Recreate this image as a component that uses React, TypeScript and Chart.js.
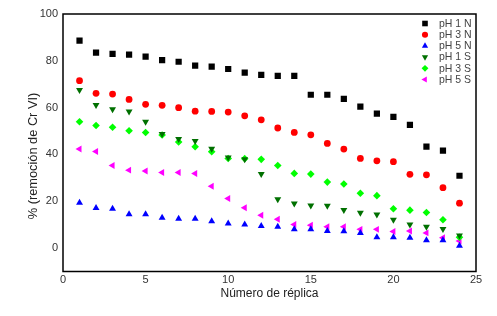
import React, { useEffect, useRef } from "react";
import { Chart, registerables } from "chart.js";
import { drawPoint } from "chart.js/helpers";

Chart.register(...registerables);

const replicas = [1, 2, 3, 4, 5, 6, 7, 8, 9, 10, 11, 12, 13, 14, 15, 16, 17, 18, 19, 20, 21, 22, 23, 24];
const ph1N = [88.6, 83.5, 83, 82.6, 81.8, 80.3, 79.6, 77.9, 77.5, 76.5, 75, 74, 73.6, 73.6, 65.5, 65.5, 63.7, 60.4, 57.4, 56.1, 52.6, 43.3, 41.6, 30.9];
const ph3N = [71.5, 66.1, 65.8, 63.5, 61.4, 61, 60, 58.5, 58.4, 58.1, 56.5, 54.8, 51.3, 49.4, 48.4, 44.7, 42.3, 38.3, 37.3, 36.9, 31.5, 31.3, 25.8, 19.2];
const ph5N = [19.4, 17.1, 16.8, 14.5, 14.5, 13, 12.5, 12.5, 11.5, 10.5, 10.1, 9.4, 9.1, 8, 8, 7.3, 7.2, 6.5, 4.6, 4.6, 4.4, 3.4, 3.4, 1];
const ph1S = [67.5, 61.1, 59.3, 58.3, 54, 48.7, 46.6, 45.7, 42.4, 38.7, 37.9, 31.6, 20.9, 19.1, 18.2, 18.1, 16.3, 15.1, 14.4, 12.1, 10.1, 9.1, 8.2, 5.4];
const ph3S = [54, 52.4, 51.6, 50.1, 49.4, 48.3, 45.3, 43.3, 41.2, 38.3, 38.2, 37.9, 35.3, 31.9, 31.6, 28.2, 27.4, 23.4, 22.4, 16.8, 16.2, 15.2, 12.1, 4.6];
const ph5S = [42.3, 41.3, 35.3, 33.3, 32.9, 32.3, 32.3, 31.9, 26.4, 21.2, 17.2, 14, 12.3, 10.1, 9.8, 9.1, 9.1, 8, 8, 7.1, 7.3, 6.5, 4.4, 3];

const seriesLabels = ["pH 1 N", "pH 3 N", "pH 5 N", "pH 1 S", "pH 3 S", "pH 5 S"];
const yTicks = [0, 20, 40, 60, 80, 100];
const xTicks = [0, 5, 10, 15, 20, 25];
const xTitle = "Número de réplica";
const yTitle = "% (remoción de Cr VI)";

const FONT = "'Liberation Sans', Arial, sans-serif";

const styles = [
  { color: "#000000", pointStyle: "rect", radius: 4.4, rotation: 0 },
  { color: "#ff0000", pointStyle: "circle", radius: 3.4, rotation: 0 },
  { color: "#0000ff", pointStyle: "triangle", radius: 4, rotation: 0 },
  { color: "#007000", pointStyle: "triangle", radius: 4, rotation: 180 },
  { color: "#00ff00", pointStyle: "rectRot", radius: 3.8, rotation: 0 },
  { color: "#ff00ff", pointStyle: "triangle", radius: 4, rotation: 270 },
];

const seriesData = [ph1N, ph3N, ph5N, ph1S, ph3S, ph5S];

const framePlugin = {
  id: "frameAndText",
  afterDraw(chart: any) {
    const { ctx, chartArea } = chart;
    ctx.save();
    ctx.strokeStyle = "#000";
    ctx.lineWidth = 1.5;
    ctx.strokeRect(chartArea.left, chartArea.top, chartArea.right - chartArea.left, chartArea.bottom - chartArea.top);

    // axis titles
    ctx.fillStyle = "#222";
    ctx.textAlign = "center";
    ctx.textBaseline = "middle";
    ctx.font = `12px ${FONT}`;
    ctx.fillText(xTitle, (chartArea.left + chartArea.right) / 2, 294);
    ctx.save();
    ctx.translate(33, 156);
    ctx.rotate(-Math.PI / 2);
    ctx.font = `12.8px ${FONT}`;
    ctx.fillText(yTitle, 0, 0);
    ctx.restore();

    // legend
    const mx = 425;
    const tx = 439;
    const y0 = 23.5;
    const dy = 11.2;
    ctx.font = `10.5px ${FONT}`;
    ctx.textAlign = "left";
    ctx.textBaseline = "middle";
    seriesLabels.forEach((lbl, i) => {
      const s = styles[i];
      const y = y0 + i * dy;
      ctx.fillStyle = s.color;
      ctx.strokeStyle = s.color;
      drawPoint(ctx, { pointStyle: s.pointStyle as any, radius: s.radius * 0.9, rotation: s.rotation, borderWidth: 0 }, mx, y);
      ctx.fillStyle = "#444";
      ctx.fillText(lbl, tx, y + 0.5);
    });
    ctx.restore();
  },
};

export default function App() {
  const ref = useRef<HTMLCanvasElement>(null);
  useEffect(() => {
    document.body.style.margin = "0";
    const canvas = ref.current!;
    const chart = new Chart(canvas, {
      type: "scatter",
      data: {
        datasets: seriesData.map((vals, i) => ({
          label: seriesLabels[i],
          data: vals.map((v, j) => ({ x: replicas[j], y: v })),
          pointStyle: styles[i].pointStyle as any,
          pointRadius: styles[i].radius,
          pointRotation: styles[i].rotation,
          backgroundColor: styles[i].color,
          borderColor: styles[i].color,
          borderWidth: 0,
          showLine: false,
        })),
      },
      options: {
        animation: false,
        responsive: false,
        maintainAspectRatio: false,
        layout: { padding: { top: 14, right: 21, left: 0, bottom: 0 } },
        plugins: { legend: { display: false }, tooltip: { enabled: false } },
        scales: {
          x: {
            type: "linear",
            min: 0,
            max: 25,
            afterBuildTicks: (scale: any) => {
              scale.ticks = xTicks.map((v) => ({ value: v }));
            },
            afterFit: (scale: any) => {
              scale.height = 44.5;
            },
            grid: { display: false, drawTicks: false },
            border: { display: false },
            ticks: { color: "#333", font: { family: FONT, size: 11 }, padding: 2, maxRotation: 0, autoSkip: false },
          },
          y: {
            type: "linear",
            min: -10,
            max: 100,
            afterBuildTicks: (scale: any) => {
              scale.ticks = yTicks.map((v) => ({ value: v }));
            },
            afterFit: (scale: any) => {
              scale.width = 63;
            },
            grid: { display: false, drawTicks: false },
            border: { display: false },
            ticks: { color: "#333", font: { family: FONT, size: 11 }, padding: 5 },
          },
        },
      },
      plugins: [framePlugin],
    });
    return () => chart.destroy();
  }, []);
  return (
    <div style={{ position: "absolute", left: 0, top: 0, width: 497, height: 316, background: "#fff" }}>
      <canvas ref={ref} width={497} height={316} style={{ width: 497, height: 316, display: "block" }} />
    </div>
  );
}
